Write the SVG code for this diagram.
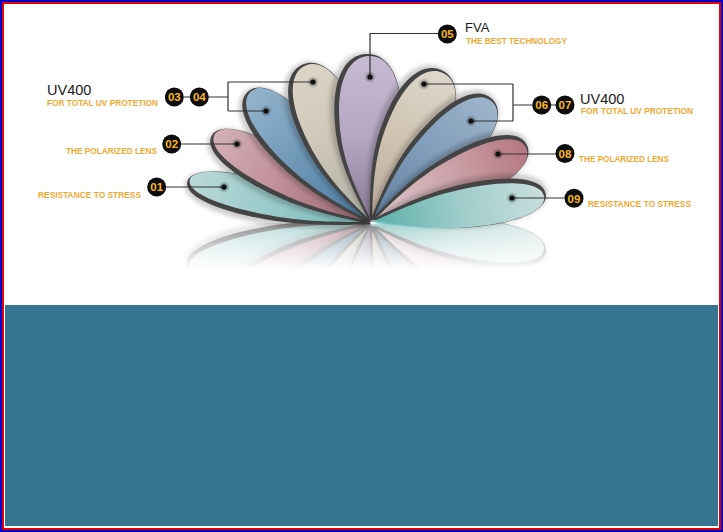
<svg xmlns="http://www.w3.org/2000/svg" xmlns:xlink="http://www.w3.org/1999/xlink" width="723" height="532" viewBox="0 0 723 532">
<style>
.cap{font-family:"Liberation Sans",Arial,sans-serif;font-weight:bold;font-size:8.2px;fill:#f2a933}
.big{font-family:"Liberation Sans",Arial,sans-serif;font-size:14.5px;fill:#1a1a1a}
.num{font-family:"Liberation Sans",Arial,sans-serif;font-weight:bold;font-size:11.5px;fill:#f6b81c;text-anchor:middle}
.badge{fill:#0d0d0d}
.ln{stroke:#333;stroke-width:1.2;fill:none}
.rim{fill:#444}
.sh{fill:#000;opacity:.2}
.body{fill-opacity:.9}
</style>
<defs>
<path id="egg" d="M0,0 C22,-28 40,-50 66,-50 C86,-50 100,-32 100,0 C100,32 86,50 66,50 C40,50 22,28 0,0Z"/>
<filter id="soft" x="-20%" y="-40%" width="140%" height="180%"><feGaussianBlur stdDeviation="2"/></filter>
<linearGradient id="gCyanL"><stop offset="0" stop-color="#7cc4c4"/><stop offset=".6" stop-color="#a6dbda"/><stop offset="1" stop-color="#c6e9e8"/></linearGradient>
<linearGradient id="gPinkL"><stop offset="0" stop-color="#a06a76"/><stop offset=".6" stop-color="#d09aa5"/><stop offset="1" stop-color="#e2bcc3"/></linearGradient>
<linearGradient id="gBlueL"><stop offset="0" stop-color="#4a7ca3"/><stop offset=".6" stop-color="#78a5c7"/><stop offset="1" stop-color="#9cc0da"/></linearGradient>
<linearGradient id="gBeigeL"><stop offset="0" stop-color="#b9bdb0"/><stop offset=".6" stop-color="#e0d7c5"/><stop offset="1" stop-color="#ece4d6"/></linearGradient>
<linearGradient id="gPurple"><stop offset="0" stop-color="#8d7d99"/><stop offset=".5" stop-color="#c0b1cf"/><stop offset="1" stop-color="#d4c8e1"/></linearGradient>
<linearGradient id="gBeigeR"><stop offset="0" stop-color="#c5b5a2"/><stop offset=".6" stop-color="#e1d5c2"/><stop offset="1" stop-color="#eee6d9"/></linearGradient>
<linearGradient id="gBlueR"><stop offset="0" stop-color="#6589ad"/><stop offset=".6" stop-color="#8cabca"/><stop offset="1" stop-color="#a8c0d9"/></linearGradient>
<linearGradient id="gPinkR"><stop offset="0" stop-color="#ecd8dc"/><stop offset=".5" stop-color="#dcb0b8"/><stop offset="1" stop-color="#c27d8a"/></linearGradient>
<linearGradient id="gCyanR"><stop offset="0" stop-color="#5cbab4"/><stop offset=".5" stop-color="#a7dbd8"/><stop offset="1" stop-color="#d6efed"/></linearGradient>
<radialGradient id="halo"><stop offset="0" stop-color="#000" stop-opacity=".55"/><stop offset="1" stop-color="#000" stop-opacity="0"/></radialGradient>
<linearGradient id="fade" gradientUnits="userSpaceOnUse" x1="0" y1="223" x2="0" y2="270"><stop offset="0" stop-color="#fff" stop-opacity=".6"/><stop offset=".45" stop-color="#fff" stop-opacity=".3"/><stop offset="1" stop-color="#fff" stop-opacity="0"/></linearGradient>
<mask id="refMask" maskUnits="userSpaceOnUse" x="0" y="0" width="723" height="532"><rect x="150" y="223" width="450" height="50" fill="url(#fade)"/></mask>
</defs>

<rect x="0" y="0" width="723" height="532" fill="#fff"/>
<rect id="panel" x="5" y="305" width="713" height="221" fill="#367490"/>

<g id="reflection" mask="url(#refMask)">
<use xlink:href="#fan" href="#fan" transform="translate(0,446) scale(1,-1)"/>
</g>

<g id="fan">
<g id="lens-01" transform="translate(372,222) rotate(193)">
<g filter="url(#soft)"><use href="#egg" class="sh" transform="translate(0,-4.5) scale(1.91,0.44)"/></g>
<use href="#egg" class="rim" transform="translate(0,-2.3) scale(1.89,0.39)"/>
<use href="#egg" class="body" fill="url(#gCyanL)" transform="scale(1.87,0.34)"/>
</g>
<g id="lens-02" transform="translate(372,222) rotate(209)">
<g filter="url(#soft)"><use href="#egg" class="sh" transform="translate(0,-4.5) scale(1.84,0.50)"/></g>
<use href="#egg" class="rim" transform="translate(0,-2.3) scale(1.82,0.45)"/>
<use href="#egg" class="body" fill="url(#gPinkL)" transform="scale(1.80,0.40)"/>
</g>
<g id="lens-03" transform="translate(372,222) rotate(227)">
<g filter="url(#soft)"><use href="#egg" class="sh" transform="translate(0,-4.5) scale(1.82,0.58)"/></g>
<use href="#egg" class="rim" transform="translate(0,-2.3) scale(1.80,0.53)"/>
<use href="#egg" class="body" fill="url(#gBlueL)" transform="scale(1.78,0.48)"/>
</g>
<g id="lens-04" transform="translate(372,222) rotate(247)">
<g filter="url(#soft)"><use href="#egg" class="sh" transform="translate(0,-4.5) scale(1.74,0.66)"/></g>
<use href="#egg" class="rim" transform="translate(0,-2.3) scale(1.72,0.61)"/>
<use href="#egg" class="body" fill="url(#gBeigeL)" transform="scale(1.70,0.56)"/>
</g>
<g id="lens-05" transform="translate(372,222) rotate(269)">
<g filter="url(#soft)"><use href="#egg" class="sh" transform="translate(0,-4.5) scale(1.70,0.72)"/></g>
<use href="#egg" class="rim" transform="translate(0,-2.3) scale(1.68,0.67)"/>
<use href="#egg" class="body" fill="url(#gPurple)" transform="scale(1.66,0.62)"/>
</g>
<g id="lens-06" transform="translate(372,222) rotate(-64.5)">
<g filter="url(#soft)"><use href="#egg" class="sh" transform="translate(0,-4.5) scale(1.69,0.68)"/></g>
<use href="#egg" class="rim" transform="translate(0,-2.3) scale(1.67,0.63)"/>
<use href="#egg" class="body" fill="url(#gBeigeR)" transform="scale(1.65,0.58)"/>
</g>
<g id="lens-07" transform="translate(372,222) rotate(-44.8)">
<g filter="url(#soft)"><use href="#egg" class="sh" transform="translate(0,-4.5) scale(1.74,0.62)"/></g>
<use href="#egg" class="rim" transform="translate(0,-2.3) scale(1.72,0.57)"/>
<use href="#egg" class="body" fill="url(#gBlueR)" transform="scale(1.70,0.52)"/>
</g>
<g id="lens-08" transform="translate(372,222) rotate(-25.7)">
<g filter="url(#soft)"><use href="#egg" class="sh" transform="translate(0,-4.5) scale(1.75,0.56)"/></g>
<use href="#egg" class="rim" transform="translate(0,-2.3) scale(1.73,0.51)"/>
<use href="#egg" class="body" fill="url(#gPinkR)" transform="scale(1.71,0.46)"/>
</g>
<g id="lens-09" transform="translate(372,222) rotate(-8.4)">
<g filter="url(#soft)"><use href="#egg" class="sh" transform="translate(0,-4.5) scale(1.78,0.50)"/></g>
<use href="#egg" class="rim" transform="translate(0,-2.3) scale(1.76,0.45)"/>
<use href="#egg" class="body" fill="url(#gCyanR)" transform="scale(1.74,0.40)"/>
</g>
</g>

<g id="connectors">
<path class="ln" d="M166,187H224"/>
<path class="ln" d="M181,144H237"/>
<path class="ln" d="M184,97H190M208.5,97H228M228,82V111M228,82H313M228,111H266"/>
<path class="ln" d="M438,33.5H370V77"/>
<path class="ln" d="M532,105H513M513,84V121M424,84H513M471,121H513M551,105H556"/>
<path class="ln" d="M498,154H556"/>
<path class="ln" d="M512,198H564.5"/>
<g id="dots">
<circle cx="224" cy="187" r="6" fill="url(#halo)"/><circle cx="224" cy="187" r="2.6" fill="#111"/>
<circle cx="237" cy="144" r="6" fill="url(#halo)"/><circle cx="237" cy="144" r="2.6" fill="#111"/>
<circle cx="266" cy="111" r="6" fill="url(#halo)"/><circle cx="266" cy="111" r="2.6" fill="#111"/>
<circle cx="313" cy="82" r="6" fill="url(#halo)"/><circle cx="313" cy="82" r="2.6" fill="#111"/>
<circle cx="370" cy="77" r="6" fill="url(#halo)"/><circle cx="370" cy="77" r="2.6" fill="#111"/>
<circle cx="424" cy="84" r="6" fill="url(#halo)"/><circle cx="424" cy="84" r="2.6" fill="#111"/>
<circle cx="471" cy="121" r="6" fill="url(#halo)"/><circle cx="471" cy="121" r="2.6" fill="#111"/>
<circle cx="498" cy="154" r="6" fill="url(#halo)"/><circle cx="498" cy="154" r="2.6" fill="#111"/>
<circle cx="512" cy="198" r="6" fill="url(#halo)"/><circle cx="512" cy="198" r="2.6" fill="#111"/>
</g>
</g>

<g id="node-01">
<circle class="badge" cx="156.7" cy="187" r="9.5"/><text class="num" x="156.7" y="191.2">01</text>
<text class="cap" x="38" y="198" textLength="103" lengthAdjust="spacingAndGlyphs">RESISTANCE TO STRESS</text>
</g>
<g id="node-02">
<circle class="badge" cx="171.7" cy="144" r="9.5"/><text class="num" x="171.7" y="148.2">02</text>
<text class="cap" x="66" y="153.5" textLength="91" lengthAdjust="spacingAndGlyphs">THE POLARIZED LENS</text>
</g>
<g id="node-03-04">
<circle class="badge" cx="174.3" cy="97" r="9.5"/><text class="num" x="174.3" y="101.2">03</text>
<circle class="badge" cx="199.3" cy="97" r="9.5"/><text class="num" x="199.3" y="101.2">04</text>
<text class="big" x="47" y="95">UV400</text>
<text class="cap" x="47" y="105.7" textLength="111" lengthAdjust="spacingAndGlyphs">FOR TOTAL UV PROTETION</text>
</g>
<g id="node-05">
<circle class="badge" cx="447.3" cy="34" r="9.5"/><text class="num" x="447.3" y="38.2">05</text>
<text class="big" x="465" y="31.5" style="font-size:13px">FVA</text>
<text class="cap" x="466" y="43.5" textLength="101" lengthAdjust="spacingAndGlyphs">THE BEST TECHNOLOGY</text>
</g>
<g id="node-06-07">
<circle class="badge" cx="541.7" cy="105" r="9.5"/><text class="num" x="541.7" y="109.2">06</text>
<circle class="badge" cx="565" cy="105" r="9.5"/><text class="num" x="565" y="109.2">07</text>
<text class="big" x="580" y="104">UV400</text>
<text class="cap" x="581" y="114" textLength="112" lengthAdjust="spacingAndGlyphs">FOR TOTAL UV PROTETION</text>
</g>
<g id="node-08">
<circle class="badge" cx="565" cy="153.5" r="9.5"/><text class="num" x="565" y="157.7">08</text>
<text class="cap" x="579" y="162.3" textLength="90" lengthAdjust="spacingAndGlyphs">THE POLARIZED LENS</text>
</g>
<g id="node-09">
<circle class="badge" cx="574" cy="198.3" r="9.5"/><text class="num" x="574" y="202.5">09</text>
<text class="cap" x="588" y="207.3" textLength="103" lengthAdjust="spacingAndGlyphs">RESISTANCE TO STRESS</text>
</g>

<rect x="1" y="1" width="721" height="530" fill="none" stroke="#0000cd" stroke-width="2"/>
<rect x="3" y="3" width="717" height="526" fill="none" stroke="#e60000" stroke-width="2"/>
</svg>
